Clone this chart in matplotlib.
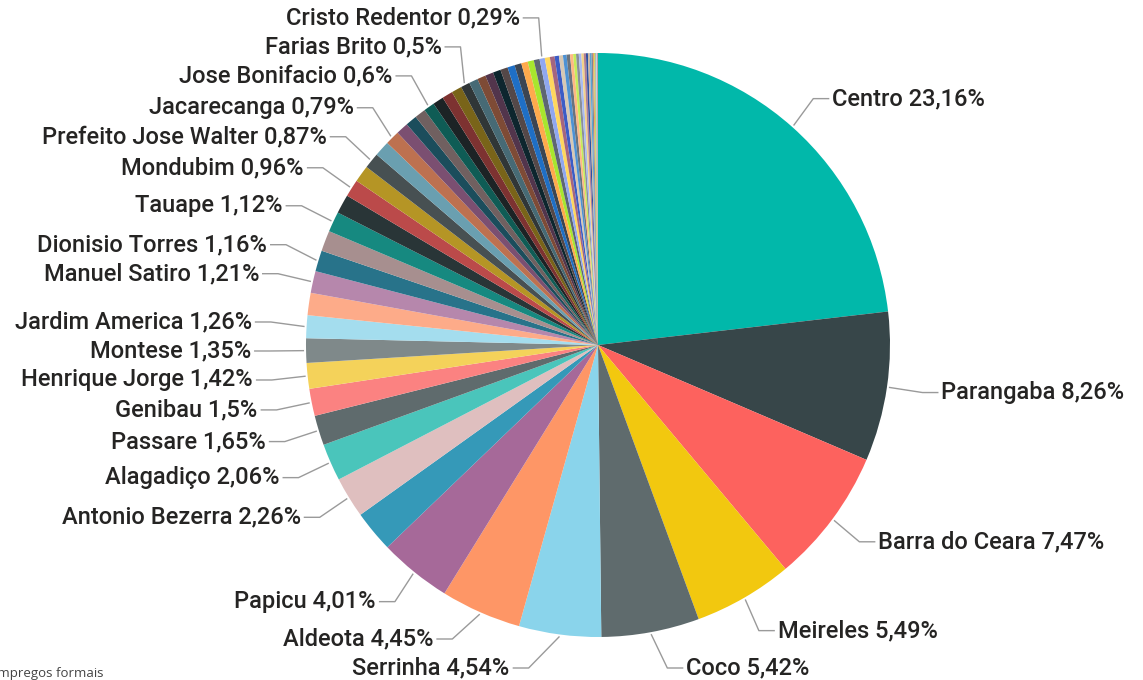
import numpy as np
import matplotlib
matplotlib.use("Agg")
import matplotlib.pyplot as plt

# participacao por bairro (%), ordem decrescente; '' = fatia sem rotulo
bairros = ["Centro", "Parangaba", "Barra do Ceara", "Meireles", "Coco", "Serrinha",
           "Aldeota", "Papicu", "", "Antonio Bezerra", "Alagadiço", "Passare",
           "Genibau", "Henrique Jorge", "Montese", "Jardim America", "",
           "Manuel Satiro", "Dionisio Torres", "", "Tauape", "", "Mondubim", "",
           "Prefeito Jose Walter", "", "Jacarecanga", "", "", "", "Jose Bonifacio",
           "", "", "", "Farias Brito",
           "", "", "", "", "", "", "", "", "", "",
           "Cristo Redentor"]
pct = [23.16, 8.26, 7.47, 5.49, 5.42, 4.54,
       4.45, 4.01, 2.30, 2.26, 2.06, 1.65,
       1.50, 1.42, 1.35, 1.26, 1.23,
       1.21, 1.16, 1.14, 1.12, 1.05, 0.96, 0.93,
       0.87, 0.86, 0.79, 0.68, 0.63, 0.61, 0.60,
       0.60, 0.59, 0.57, 0.50,
       0.49, 0.47, 0.45, 0.43, 0.41, 0.40, 0.38, 0.36, 0.34, 0.32,
       0.29]
# bairros menores (sem rotulo)
resto = [0.28, 0.26, 0.24, 0.22, 0.20, 0.19, 0.17, 0.16, 0.15, 0.14, 0.13, 0.12,
         0.11, 0.10, 0.09, 0.08, 0.07, 0.06, 0.05, 0.04, 0.03, 0.02, 0.01]

bairros = bairros + [""] * len(resto)
pct = pct + resto

cores = ["#01B8AA", "#374649", "#FD625E", "#F2C80F", "#5F6B6D", "#8AD4EB", "#FE9666",
         "#A66999", "#3599B8", "#DFBFBF", "#4AC5BB", "#5F6B6D", "#FB8281", "#F4D25A",
         "#7F898A", "#A4DDEE", "#FDAB89", "#B687AC", "#28738A", "#A78F8F", "#168980",
         "#293537", "#BB4A4A", "#B59525", "#475052", "#6A9FB0", "#BD7150", "#7B4F71",
         "#1B4D5C", "#706060", "#0F5C55", "#1C2325", "#7D3231", "#796419", "#303637",
         "#476A75", "#7E4B36", "#52354C", "#0D262E", "#544848",
         "#1F6FC5", "#3C4552", "#FFAA4D", "#A8E62E", "#5E6672", "#8FA7F0", "#FFD75E",
         "#A5667F", "#3B5CC6", "#D6C8B4", "#4D92D4", "#6A737D", "#FFB784", "#C5EB5A",
         "#8A8F99", "#A8BBF2", "#F3D38A", "#B07E96", "#2E4FA0", "#C9B59E", "#5AA2D6",
         "#7F8790", "#F0A060", "#B8D84A", "#9AA0A8", "#B8C6F0", "#E8C770", "#8E5A75",
         "#3050B0"]

W, H = 1143, 680
cx, cy, R = 598, H - 345, 292

fig = plt.figure(figsize=(W / 100, H / 100), dpi=100)
ax = fig.add_axes([0, 0, 1, 1])
wedges, _ = ax.pie(pct, colors=cores[:len(pct)], startangle=90, counterclock=False,
                   radius=R, center=(cx, cy), wedgeprops=dict(linewidth=0))
ax.set_xlim(0, W)
ax.set_ylim(0, H)
ax.set_aspect("equal")
ax.axis("off")

# posicoes dos rotulos
rot = []
for w, nome, v in zip(wedges, bairros, pct):
    if not nome:
        continue
    a = np.deg2rad((w.theta1 + w.theta2) / 2)
    lado = 1 if np.cos(a) >= 0 else -1
    rot.append(dict(txt=f"{nome} {v:g}%".replace(".", ","), a=a, lado=lado,
                    y=max(cy + 330 * np.sin(a), 12)))

gap = 29
# lado esquerdo: empurra para cima a partir de baixo
esq = sorted([r for r in rot if r["lado"] == -1], key=lambda r: r["y"])
for i in range(1, len(esq)):
    esq[i]["y"] = max(esq[i]["y"], esq[i - 1]["y"] + gap)
# lado direito: empurra para baixo a partir do topo
dir_ = sorted([r for r in rot if r["lado"] == 1], key=lambda r: -r["y"])
for i in range(1, len(dir_)):
    dir_[i]["y"] = min(dir_[i]["y"], dir_[i - 1]["y"] - gap)

for r in rot:
    a, lado, y = r["a"], r["lado"], r["y"]
    ax_x = cx + (R + 2) * np.cos(a)
    ax_y = cy + (R + 2) * np.sin(a)
    dy = y - cy
    fx = 347 * np.sqrt(max(1 - (dy / 334) ** 2, 0))
    tx = cx + lado * fx
    if lado == 1:
        tx = max(tx, ax_x + 22)
    else:
        tx = min(tx, ax_x - 22)
    ex = tx - lado * 19
    ax.plot([ax_x, ex, tx - lado * 3], [ax_y, y, y], color="#9A9A9A", lw=1.0,
            solid_capstyle="butt")
    ax.text(tx, y, r["txt"], ha="left" if lado == 1 else "right", va="center",
            fontsize=17, fontfamily="Roboto", fontweight="medium", color="#252423")

ax.text(103, 7, "Empregos formais", ha="right", va="center", fontsize=9.5,
        fontfamily="Open Sans", color="#444444")

fig.savefig("out.png", dpi=100)
